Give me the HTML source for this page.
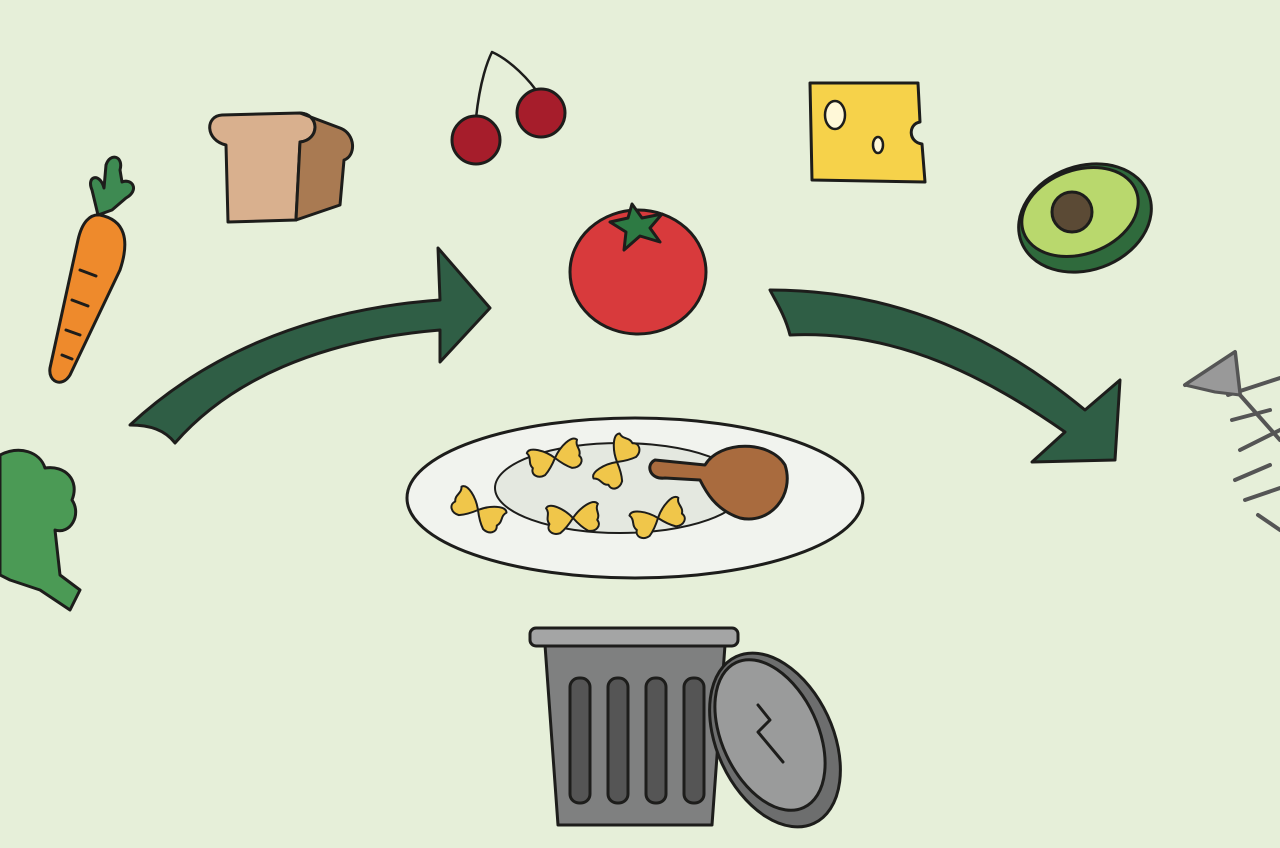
<!DOCTYPE html>
<html><head><meta charset="utf-8"><style>
html,body{margin:0;padding:0;background:#e6efd9;}
svg{display:block;}
</style></head><body>
<svg width="1280" height="848" viewBox="0 0 1280 848" xmlns="http://www.w3.org/2000/svg">
<defs>
<g id="bow">
<path d="M0,0 C-8,-10 -22,-18 -26,-12 C-22,-6 -28,-2 -24,4 C-28,10 -22,16 -14,14 C-8,10 -3,4 0,0Z M0,0 C8,-10 22,-18 26,-12 C22,-6 28,-2 24,4 C28,10 22,16 14,14 C8,10 3,4 0,0Z"/>
</g>
</defs>
<rect width="1280" height="848" fill="#e6efd9"/>
<g stroke="#1d1d1b" stroke-width="3" stroke-linejoin="round" stroke-linecap="round">
<!-- carrot -->
<path d="M100,215 C125,220 130,240 120,270 L70,375 C62,388 48,382 50,368 L78,240 C82,222 90,214 100,215Z" fill="#ee8a2c"/>
<path d="M98,215 L92,190 C86,176 100,172 104,188 L106,165 C110,152 124,156 120,170 L122,182 C132,178 140,190 126,198 L112,210Z" fill="#3e8a52"/>
<path d="M80,270 l16,6 M72,300 l16,6 M66,330 l14,5 M62,355 l10,4" fill="none"/>
<!-- broccoli -->
<path d="M0,455 C20,445 40,452 45,468 C65,465 80,480 72,500 C82,515 70,535 55,530 L60,575 L80,590 L70,610 L40,590 L10,580 L0,575Z" fill="#4b9a55"/>
<!-- bread -->
<path d="M222,115 L300,113 C320,114 320,140 300,142 L296,220 L228,222 L226,145 C205,140 205,116 222,115Z" fill="#d9b08e"/>
<path d="M300,113 L340,128 C356,134 356,156 344,160 L340,205 L296,220 L300,142 C320,140 320,114 300,113Z" fill="#a97a52"/>
<!-- cherries -->
<path d="M476,118 C480,80 488,60 492,52 C510,60 530,80 540,96" fill="none" stroke-width="2.5"/>
<circle cx="476" cy="140" r="24" fill="#a61d2b"/>
<circle cx="541" cy="113" r="24" fill="#a61d2b"/>
<!-- cheese -->
<path d="M810,83 L918,83 L920,122 C908,124 908,142 922,144 L925,182 L812,180Z" fill="#f6d24a"/>
<ellipse cx="835" cy="115" rx="10" ry="14" fill="#fff8d8" stroke-width="2.5"/>
<ellipse cx="878" cy="145" rx="5" ry="8" fill="#fff8d8" stroke-width="2.5"/>
<!-- avocado -->
<ellipse cx="1085" cy="218" rx="68" ry="52" transform="rotate(-20 1085 218)" fill="#2f6a3c"/>
<ellipse cx="1080" cy="212" rx="60" ry="42" transform="rotate(-20 1080 212)" fill="#b9d86d"/>
<circle cx="1072" cy="212" r="20" fill="#5b4a35"/>
<!-- tomato -->
<ellipse cx="638" cy="272" rx="68" ry="62" fill="#d83a3c"/>
<path d="M610,222 L628,218 L632,204 L642,218 L662,214 L650,228 L660,242 L640,236 L624,250 L626,232Z" fill="#2d7a43"/>
<!-- left arrow -->
<path d="M130,425 C200,360 300,310 440,300 L438,248 L490,308 L440,362 L440,330 C320,340 230,380 175,443 C165,430 150,425 130,425Z" fill="#2f5e45"/>
<!-- right arrow -->
<path d="M770,290 C900,290 1000,340 1085,410 L1120,380 L1115,460 L1032,462 L1065,432 C990,380 900,330 790,335 C785,315 775,300 770,290Z" fill="#2f5e45"/>
<!-- fish skeleton -->
<path d="M1185,385 L1235,352 L1240,395 L1280,440 M1228,395 L1280,378 M1232,420 L1270,410 M1240,450 L1280,430 M1235,480 L1270,465 M1245,500 L1280,488 M1258,515 L1280,530" fill="none" stroke="#555" stroke-width="4"/>
<path d="M1185,385 L1235,352 L1240,395 L1215,392Z" fill="#999" stroke="#555"/>
<!-- plate -->
<ellipse cx="635" cy="498" rx="228" ry="80" fill="#f1f3ee"/>
<ellipse cx="620" cy="488" rx="125" ry="45" fill="#e4e8e0" stroke-width="2"/>
<g fill="#f0c64a" stroke-width="2">
<use href="#bow" transform="translate(478,510) rotate(30)"/>
<use href="#bow" transform="translate(555,458) rotate(-15)"/>
<use href="#bow" transform="translate(617,462) rotate(-60)"/>
<use href="#bow" transform="translate(573,518) rotate(-5)"/>
<use href="#bow" transform="translate(658,518) rotate(-20)"/>
</g>
<path d="M655,460 l50,5 C720,440 770,440 785,465 C795,495 770,525 740,518 C715,510 705,490 700,480 L665,478 C650,480 645,465 655,460Z" fill="#a96b3e"/>
<!-- trash can -->
<path d="M545,645 L725,645 L712,825 L558,825Z" fill="#7f8080"/>
<rect x="530" y="628" width="208" height="18" rx="6" fill="#a4a5a5"/>
<g fill="#555">
<rect x="570" y="678" width="20" height="125" rx="9"/>
<rect x="608" y="678" width="20" height="125" rx="9"/>
<rect x="646" y="678" width="20" height="125" rx="9"/>
<rect x="684" y="678" width="20" height="125" rx="9"/>
</g>
<ellipse cx="775" cy="740" rx="58" ry="92" transform="rotate(-25 775 740)" fill="#6d6e6e"/>
<ellipse cx="770" cy="735" rx="48" ry="80" transform="rotate(-25 770 735)" fill="#9a9b9b"/>
<path d="M758,705 l12,15 l-12,12 l25,30" fill="none"/>
</g>
</svg>
</body></html>
